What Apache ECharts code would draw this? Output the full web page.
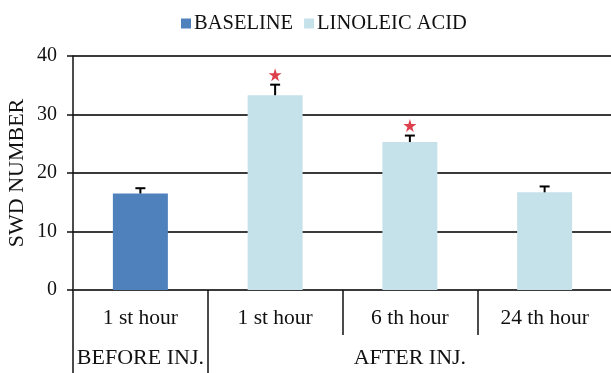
<!DOCTYPE html>
<html>
<head>
<meta charset="utf-8">
<script src="https://cdn.jsdelivr.net/npm/echarts@6/dist/echarts.min.js"></script>
<style>
html,body{margin:0;padding:0;background:#fff;}
#chart{width:611px;height:373px;}
</style>
</head>
<body>
<div id="chart"></div>
<script>
var categories = ['1 st hour', '1 st hour', '6 th hour', '24 th hour'];
var groupLabels = ['BEFORE INJ.', '', 'AFTER INJ.', ''];
var baseline = [16.5, '-', '-', '-'];
var linoleic = ['-', 33.3, 25.3, 16.7];
var means = [16.5, 33.3, 25.3, 16.7];
var errors = [0.9, 1.8, 1.1, 1.0];
var significant = [false, true, true, false];
var yTicks = [0, 10, 20, 30, 40];

var FONT = 'Liberation Serif';
var chart = echarts.init(document.getElementById('chart'));

var errData = means.map(function (m, i) { return [i, m, errors[i]]; });
var starData = [];
means.forEach(function (m, i) { if (significant[i]) starData.push([i, m + errors[i]]); });

var starPath = 'path://M50,0 L61,35 L98,35 L68,57 L79,91 L50,70 L21,91 L32,57 L2,35 L39,35 Z';

chart.setOption({
  animation: false,
  backgroundColor: '#fff',
  textStyle: { fontFamily: FONT },
  legend: {
    data: ['BASELINE', 'LINOLEIC ACID'],
    left: 176, top: 8,
    icon: 'rect', itemWidth: 10, itemHeight: 10, itemGap: 11,
    textStyle: { fontFamily: FONT, fontSize: 20.5, color: '#111', padding: [0, 0, 0, -2] }
  },
  grid: { left: 73, right: -1, top: 56, bottom: 83, containLabel: false, outerBoundsMode: 'none' },
  xAxis: [{
    type: 'category',
    data: categories,
    axisLine: { show: true, lineStyle: { color: '#3a3a3a', width: 2 } },
    axisTick: { show: true, length: 45, lineStyle: { color: '#111', width: 1.5 } },
    axisLabel: { interval: 0, fontFamily: FONT, fontSize: 21.5, color: '#111', margin: 17 },
    splitLine: { show: false }
  }, {
    type: 'category',
    position: 'bottom',
    data: groupLabels,
    axisLine: { show: false },
    axisTick: { show: true, length: 83, interval: function (i) { return i <= 1; }, lineStyle: { color: '#111', width: 1.5 } },
    axisLabel: { interval: 0, fontFamily: FONT, fontSize: 22, color: '#111', margin: 57 },
    splitLine: { show: false }
  }],
  yAxis: {
    type: 'value',
    min: yTicks[0], max: yTicks[yTicks.length - 1], interval: 10,
    name: 'SWD NUMBER',
    nameLocation: 'middle', nameGap: 45, nameRotate: 90, nameMoveOverlap: false,
    nameTextStyle: { fontFamily: FONT, fontSize: 22, color: '#111' },
    axisLine: { show: true, lineStyle: { color: '#111', width: 1.5 } },
    axisTick: { show: true, length: 6, lineStyle: { color: '#111', width: 1.5 } },
    axisLabel: { fontFamily: FONT, fontSize: 20, color: '#111', margin: 16 },
    splitLine: { show: true, lineStyle: { color: '#3a3a3a', width: 2 } }
  },
  series: [{
    name: 'BASELINE', type: 'bar', data: baseline, barWidth: 55, barGap: '-100%',
    itemStyle: { color: '#4f81bd' }, z: 2
  }, {
    name: 'LINOLEIC ACID', type: 'bar', data: linoleic, barWidth: 55, barGap: '-100%',
    itemStyle: { color: '#c5e2ea' }, z: 2
  }, {
    name: 'err', type: 'custom', z: 5,
    data: errData,
    renderItem: function (params, api) {
      var i = api.value(0), m = api.value(1), e = api.value(2);
      var p0 = api.coord([i, m]);
      var p1 = api.coord([i, m + e]);
      var hw = 5;
      return {
        type: 'group',
        children: [{
          type: 'line', shape: { x1: p0[0], y1: p0[1], x2: p1[0], y2: p1[1] },
          style: { stroke: '#000', lineWidth: 2 }
        }, {
          type: 'line', shape: { x1: p1[0] - hw, y1: p1[1], x2: p1[0] + hw, y2: p1[1] },
          style: { stroke: '#000', lineWidth: 2 }
        }]
      };
    }
  }, {
    name: 'sig', type: 'scatter', z: 6,
    data: starData,
    symbol: starPath, symbolSize: 13, symbolOffset: [0, -10],
    itemStyle: { color: '#d4101f' }
  }]
});
</script>
</body>
</html>
